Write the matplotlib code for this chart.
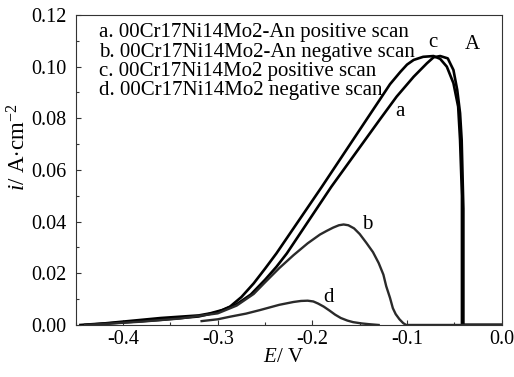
import numpy as np
import matplotlib.pyplot as plt
from matplotlib.ticker import MultipleLocator

plt.rcParams['font.family'] = ['Liberation Serif', 'DejaVu Serif']
plt.rcParams['mathtext.fontset'] = 'custom'
plt.rcParams['mathtext.rm'] = 'Liberation Serif'
plt.rcParams['mathtext.it'] = 'Liberation Serif:italic'

# a. 00Cr17Ni14Mo2-An positive scan
a_E = [-0.44, -0.40, -0.36, -0.32, -0.30, -0.28, -0.265, -0.25, -0.238, -0.227, -0.18,
       -0.129, -0.111, -0.093, -0.079, -0.072, -0.065, -0.057, -0.051, -0.047, -0.044,
       -0.0423, -0.0405, -0.0405, -0.02, 0.0]
a_i = [0.0, 0.001, 0.002, 0.0033, 0.005, 0.008, 0.0118, 0.0175, 0.0225, 0.0277, 0.0535,
       0.0794, 0.0884, 0.0961, 0.1013, 0.1036, 0.1041, 0.1032, 0.0987, 0.091, 0.082,
       0.0716, 0.045, 0.0, 0.0, 0.0]

# b. 00Cr17Ni14Mo2-An negative scan
b_E = [0.0, -0.06, -0.101, -0.104, -0.108, -0.112, -0.115, -0.118, -0.122, -0.125,
       -0.13, -0.136, -0.143, -0.15, -0.156, -0.162, -0.167, -0.172, -0.178, -0.185,
       -0.192, -0.205, -0.22, -0.235, -0.25, -0.262, -0.28, -0.30, -0.34, -0.38,
       -0.42, -0.44]
b_i = [0.0, 0.0, 0.0, 0.0007, 0.0022, 0.0042, 0.0065, 0.0105, 0.0150, 0.0195,
       0.0240, 0.0282, 0.0318, 0.0352, 0.0374, 0.0386, 0.0389, 0.0386, 0.0377, 0.0364,
       0.0350, 0.0316, 0.0270, 0.0220, 0.0165, 0.012, 0.0075, 0.0045, 0.0025, 0.0013,
       0.0004, 0.0]

# c. 00Cr17Ni14Mo2 positive scan
c_E = [-0.445, -0.42, -0.40, -0.36, -0.32, -0.308, -0.295, -0.287, -0.275, -0.262,
       -0.25, -0.238, -0.19, -0.143, -0.129, -0.118, -0.107, -0.1, -0.093, -0.083,
       -0.072, -0.065, -0.058, -0.051, -0.046, -0.044, -0.042, -0.042, -0.03, 0.0]
c_i = [0.0, 0.0006, 0.0013, 0.0027, 0.0037, 0.0045, 0.0058, 0.0071, 0.0108, 0.0161,
       0.0218, 0.0277, 0.0535, 0.0794, 0.0871, 0.0932, 0.0980, 0.1008, 0.1026, 0.1038,
       0.1041, 0.1030, 0.1000, 0.0936, 0.0845, 0.0716, 0.05, 0.0, 0.0, 0.0]

# d. 00Cr17Ni14Mo2 negative scan
d_E = [-0.317, -0.30, -0.287, -0.27, -0.255, -0.235, -0.22, -0.212, -0.205, -0.199,
       -0.194, -0.188, -0.182, -0.176, -0.17, -0.163, -0.157, -0.148, -0.14, -0.13]
d_i = [0.0015, 0.0022, 0.0032, 0.0044, 0.0058, 0.0078, 0.0089, 0.0093, 0.0094, 0.0091,
       0.0083, 0.0071, 0.0056, 0.0040, 0.0027, 0.0017, 0.0011, 0.0006, 0.0003, 0.0]

legend_lines = ["a. 00Cr17Ni14Mo2-An positive scan",
                "b. 00Cr17Ni14Mo2-An negative scan",
                "c. 00Cr17Ni14Mo2 positive scan",
                "d. 00Cr17Ni14Mo2 negative scan"]

fig = plt.figure(figsize=(5.14, 3.77), dpi=100)
ax = fig.add_axes([0.1473, 0.138, 0.8288, 0.8223])

ax.plot(c_E, c_i, color='black', lw=1.9)
ax.plot(a_E, a_i, color='black', lw=1.9)
ax.plot(b_E, b_i, color='#2a2a2a', lw=1.7)
ax.plot(d_E, d_i, color='#2a2a2a', lw=1.7)

for k, s in enumerate(legend_lines):
    ax.text(0.055, 0.942 - k * 0.0615, s, transform=ax.transAxes, fontsize=15,
            va='center', ha='left')

ax.text(-0.073, 0.1095, "c", fontsize=15, ha='center', va='center')
ax.text(-0.107, 0.0825, "a", fontsize=15, ha='center', va='center')
ax.text(-0.142, 0.0387, "b", fontsize=15, ha='center', va='center')
ax.text(-0.183, 0.0108, "d", fontsize=15, ha='center', va='center')
ax.text(-0.031, 0.1084, "A", fontsize=15, ha='center', va='center')

ax.set_xlim(-0.45, 0.0)
ax.set_ylim(0.0, 0.12)
ax.xaxis.set_major_locator(MultipleLocator(0.1))
ax.xaxis.set_minor_locator(MultipleLocator(0.05))
ax.yaxis.set_major_locator(MultipleLocator(0.02))
ax.yaxis.set_minor_locator(MultipleLocator(0.01))
ax.xaxis.set_major_formatter(lambda v, p: f"{v:.1f}")
ax.yaxis.set_major_formatter(lambda v, p: f"{v:.2f}")
ax.tick_params(which='both', direction='in', labelsize=14.5, color='#333333')
ax.tick_params(which='major', length=3.5, width=0.8)
ax.tick_params(which='minor', length=2, width=0.8)
ax.tick_params(axis='x', pad=3.5)
ax.tick_params(axis='y', pad=6.5)
for sp in ax.spines.values():
    sp.set_linewidth(0.8)
    sp.set_color('#333333')

ax.set_xlabel("$E$/ V", fontsize=15)
ax.set_ylabel("$i$/ A$\\cdot$cm$^{-2}$", fontsize=16.5)
ax.xaxis.set_label_coords(0.487, -0.075)
ax.yaxis.set_label_coords(-0.105, 0.574)

plt.savefig("out.png", dpi=100)
